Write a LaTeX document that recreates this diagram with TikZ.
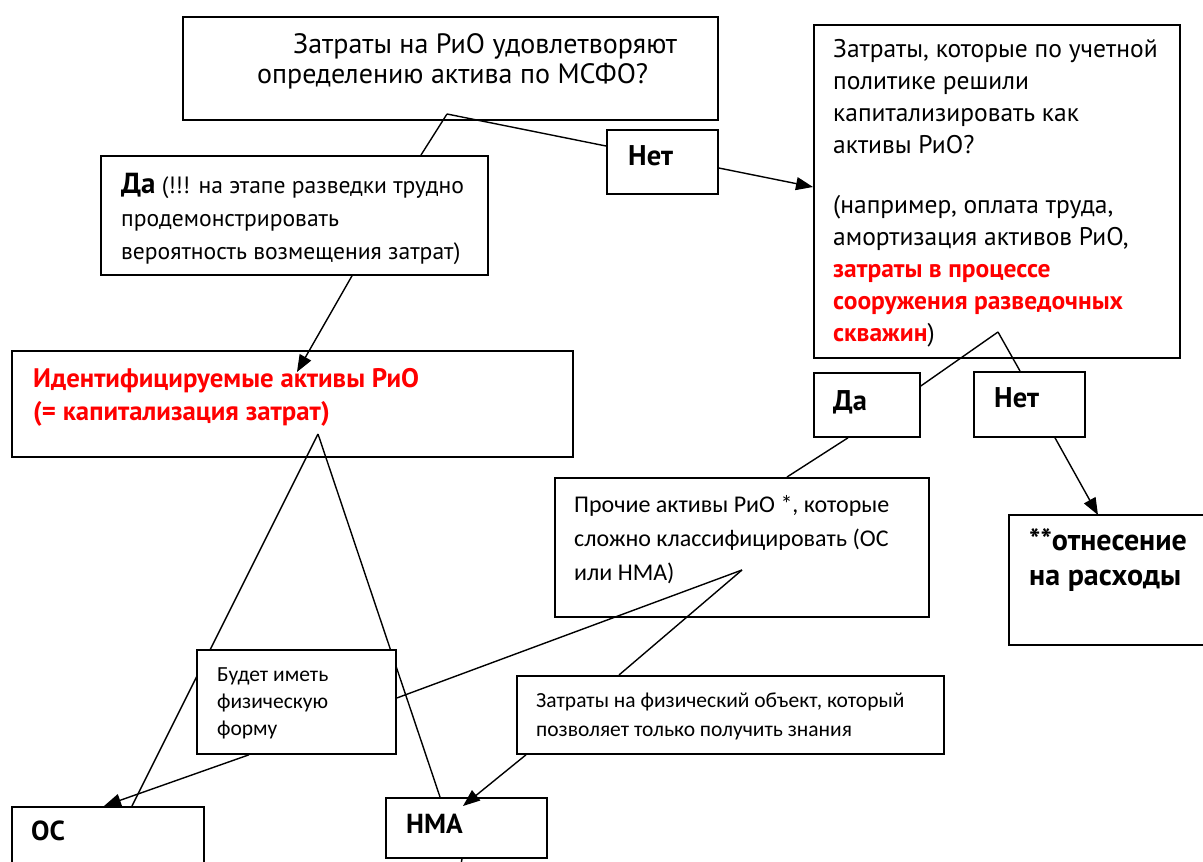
\documentclass[tikz,border=0pt]{standalone}
\usepackage{fontspec}
\setmainfont{PT Sans}
\newfontfamily\calfont{Carlito}
\usetikzlibrary{arrows.meta,calc}
\definecolor{rred}{RGB}{255,0,0}
\begin{document}
\begin{tikzpicture}[x=1pt,y=-1pt,
  box/.style={draw=black, line width=1.8pt, fill=white, inner sep=0pt, anchor=north west},
  tb/.style={inner sep=0pt, anchor=north west, align=left},
  tl/.style={inner sep=0pt, anchor=base west},
  conn/.style={line width=1.4pt},
  arr/.style={conn, -{Triangle[length=17pt,width=13pt]}},
  fA/.style={font=\fontsize{28}{30}\selectfont},
  fB/.style={font=\fontsize{25.5}{32}\selectfont},
  fBold/.style={font=\fontsize{28.5}{30}\selectfont\bfseries},
  fDa/.style={font=\fontsize{23.6}{33}\selectfont},
  fId/.style={font=\fontsize{26.8}{33}\selectfont\bfseries, text=rred},
  fPr/.style={font=\calfont\fontsize{24}{34}\selectfont},
  fRx/.style={font=\fontsize{30}{35}\selectfont\bfseries},
  fZf/.style={font=\calfont\fontsize{21.5}{29}\selectfont},
  fBu/.style={font=\calfont\fontsize{21.5}{27}\selectfont},
  fSm/.style={font=\fontsize{27.5}{30}\selectfont\bfseries},
]
\useasboundingbox (0,0) rectangle (1203,862);

% boxes
\node[box, minimum width=535pt, minimum height=103pt] (A) at (182,16) {};
\node[box, minimum width=111pt, minimum height=64pt] (Net1) at (606,129) {};
\node[box, minimum width=387pt, minimum height=119pt] (Da1) at (100,155) {};
\node[box, minimum width=366pt, minimum height=333pt] (B) at (813,24) {};
\node[box, minimum width=561pt, minimum height=106pt] (Ident) at (11,350) {};
\node[box, minimum width=106pt, minimum height=64pt] (Da2) at (813,372) {};
\node[box, minimum width=111pt, minimum height=65pt] (Net2) at (973,371) {};
\node[box, minimum width=374pt, minimum height=139pt] (Proch) at (554,477) {};
\node[box, minimum width=210pt, minimum height=130pt] (Rasx) at (1008,514) {};
\node[box, minimum width=427pt, minimum height=78pt] (ZatF) at (516,675) {};
\node[box, minimum width=192pt, minimum height=80pt] (OC) at (11,806) {};
\node[box, minimum width=161pt, minimum height=60pt] (HMA) at (385,797) {};

% texts
\node[tb, fA] (At) at (257,32) {\strut\hspace*{36pt}Затраты на РиО удовлетворяют\\определению актива по МСФО?};
\node[tl, fBold] (Net1t) at (628,165) {Нет};
\node[tb, fDa] (Da1t) at (121,169.9) {\strut{\fontsize{29}{33}\selectfont\bfseries Да} (!!! на этапе разведки трудно\\продемонстрировать\\вероятность возмещения затрат)};
\node[tb, fB] (Bt) at (833,34.6) {\strut Затраты, которые по учетной\\политике решили\\капитализировать как\\активы РиО?\\[28pt](например, оплата труда,\\амортизация активов РиО,\\{\color{rred}\bfseries затраты в процессе}\\{\color{rred}\bfseries сооружения разведочных}\\{\color{rred}\bfseries скважин})};
\node[tb, fId] (Identt) at (33,363.9) {\strut Идентифицируемые активы РиО\\(= капитализация затрат)};
\node[tl, fBold] (Da2t) at (833,410) {Да};
\node[tl, fBold] (Net2t) at (994,407) {Нет};
\node[tb, fPr] (Procht) at (574,488.2) {\strut Прочие активы РиО *, которые\\сложно классифицировать (ОС\\или НМА)};
\node[tb, fRx] (Rasxt) at (1029,525.5) {\strut **отнесение\\на расходы};
\node[tb, fZf] (ZatFt) at (536,686.7) {\strut Затраты на физический объект, который\\позволяет только получить знания};
\node[tl, fSm] (OCt) at (31,840) {ОС};
\node[tl, fSm] (HMAt) at (406,833) {НМА};

% vertices inside boxes
\coordinate (vA) at (447,114);
\coordinate (vB) at (998,332);
\coordinate (vI) at (318,434);
\coordinate (vP) at (742,570);
\coordinate (down) at (460,870);

% triangle from Ident (partly hidden by the next box)
\draw[conn] (vI) -- ($(OC.north west)+(121,0)$);
\draw[conn] (vI) -- ($(HMA.north west)+(55,0)$);

\node[box, minimum width=199pt, minimum height=104pt] (Budet) at (196,649) {};
\node[tb, fBu] (Budett) at (217,662.1) {\strut Будет иметь\\физическую\\форму};

% connectors
\draw[conn] (vA) -- ($(Da1.north west)+(321,0)$);
\draw[conn] (vA) -- ($(Net1.north west)+(0,17)$);
\draw[arr] ($(Net1.north east)+(0,39)$) -- ($(B.north west)+(0,163)$);
\draw[arr] ($(Da1.south west)+(252,0)$) -- ($(Ident.north west)+(286,22)$);
\draw[conn] (vB) -- ($(Da2.north east)+(0,14)$);
\draw[conn] (vB) -- ($(Net2.north west)+(47,0)$);
\draw[conn] ($(Da2.south west)+(35,0)$) -- ($(Proch.north west)+(233,0)$);
\draw[arr] ($(Net2.south west)+(82,0)$) -- ($(Rasx.north west)+(90,1)$);
\draw[conn] (vP) -- ($(Budet.north east)+(0,49)$);
\draw[conn] (vP) -- ($(ZatF.north west)+(103,0)$);
\draw[arr] ($(Budet.south west)+(53,0)$) -- ($(OC.north west)+(93,0)$);
\draw[arr] ($(ZatF.south west)+(10,0)$) -- ($(HMA.north west)+(78,9)$);
\draw[conn] ($(HMA.south west)+(77,0)$) -- (down);
\end{tikzpicture}
\end{document}
